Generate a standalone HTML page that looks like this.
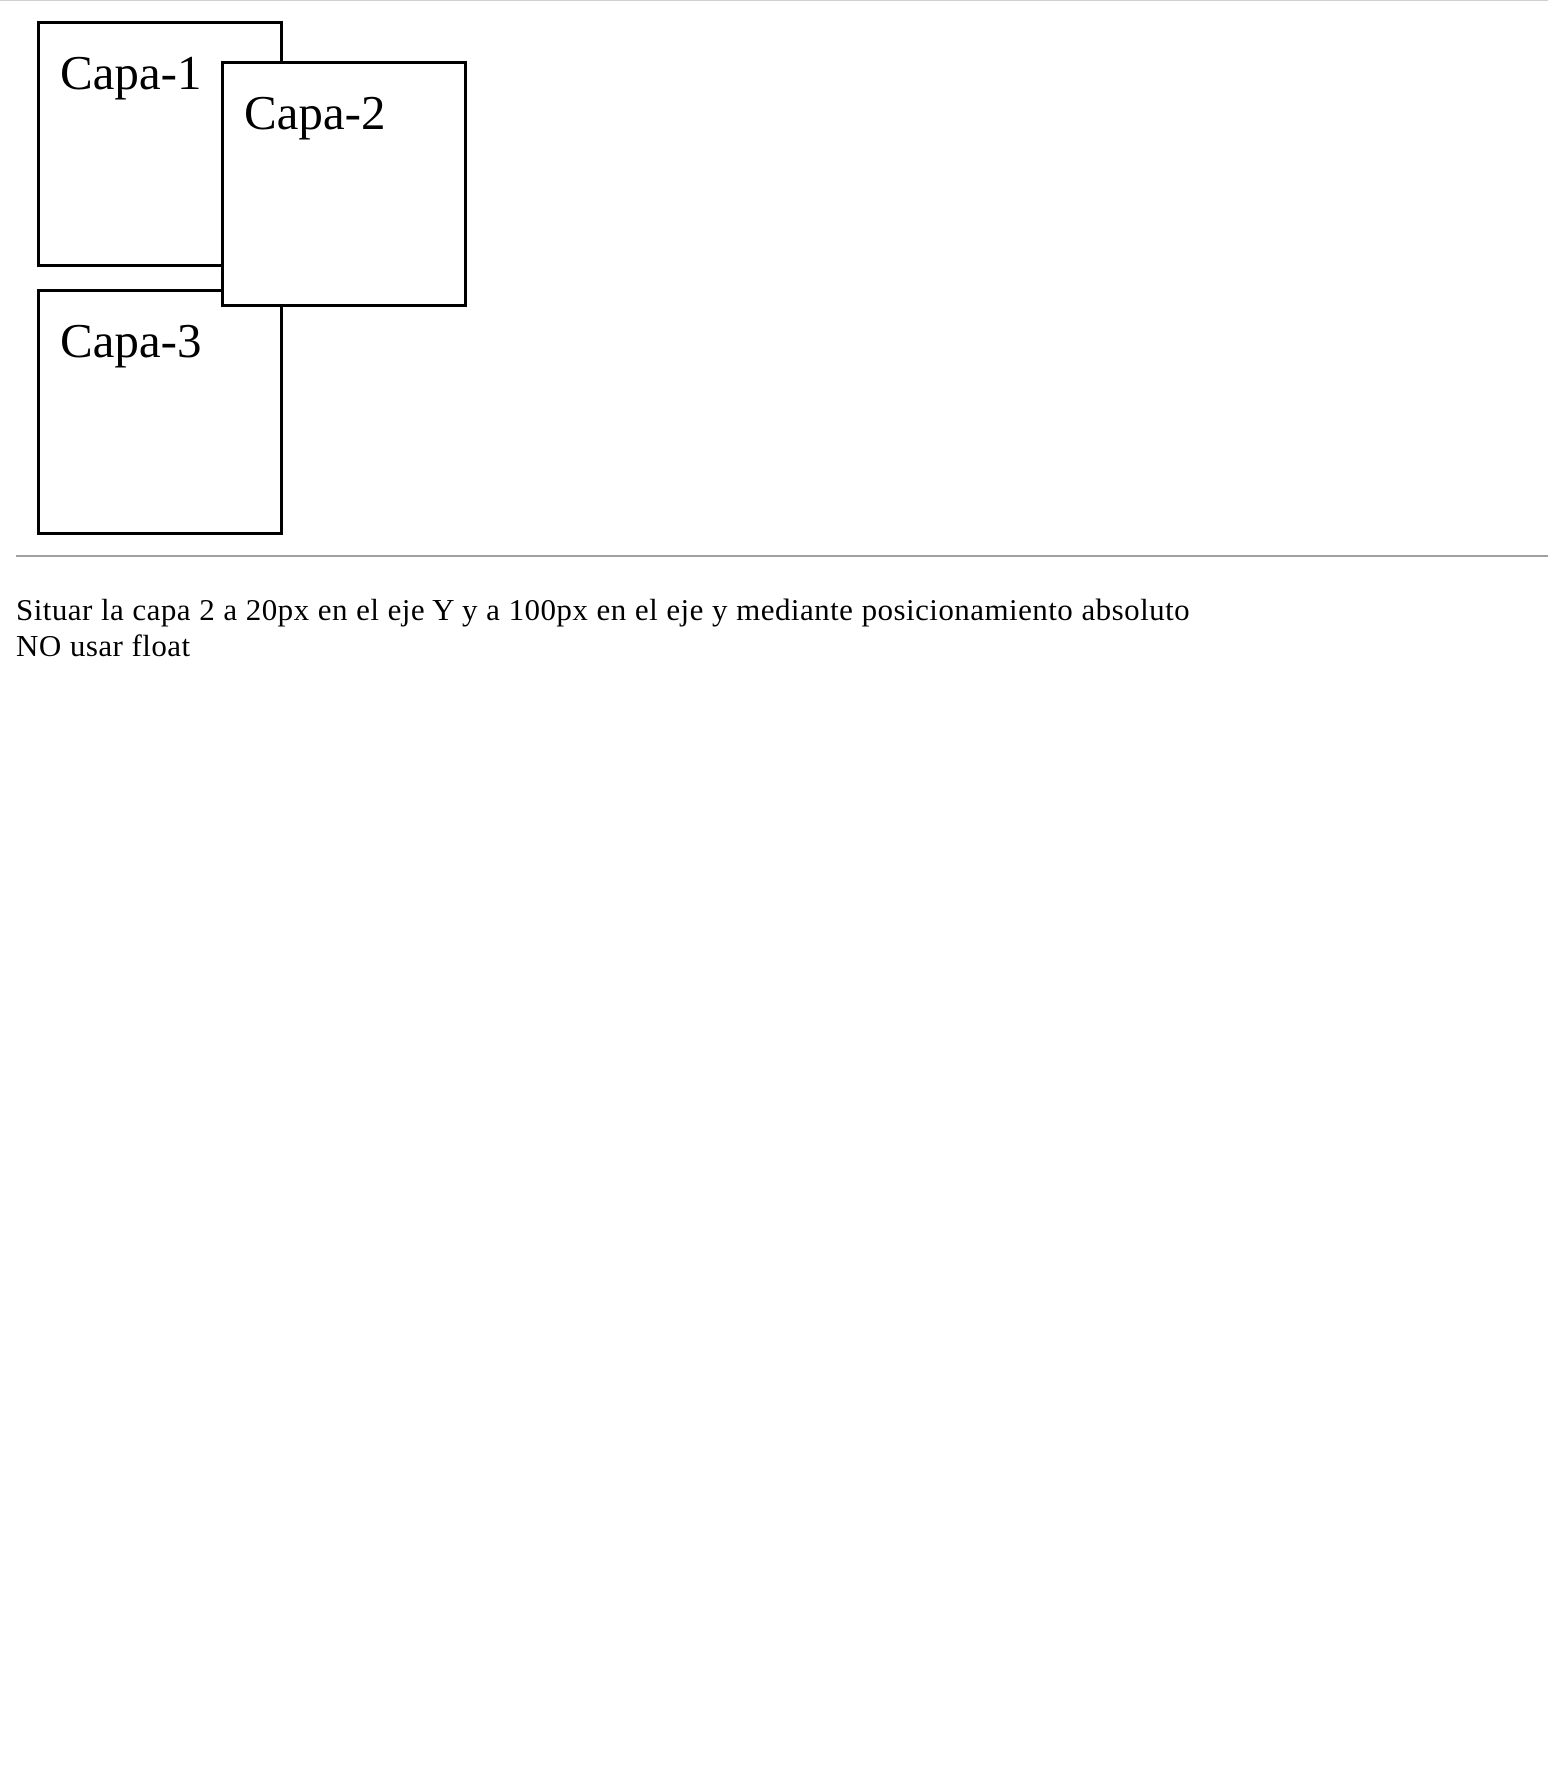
<!DOCTYPE html>
<html><head><style>
body{margin:0;width:1548px;height:1772px;background:#fff;position:relative;font-family:"Liberation Serif",serif;color:#000;overflow:hidden}
.top{position:absolute;left:0;top:0;width:1548px;height:1px;background:#d0d0d0}
.b{position:absolute;width:240px;height:240px;border:3px solid #000;background:#fff;box-sizing:content-box}
.b span{position:absolute;left:20px;top:24px;font-size:49px;line-height:49px}
hr{position:absolute;left:16px;top:555px;width:1532px;margin:0;border:0;border-top:2px solid #a0a0a0}
.t{position:absolute;left:16px;top:592px;font-size:31px;line-height:36px;letter-spacing:0.45px}
</style></head><body>
<div class="top"></div>
<div class="b" style="left:37px;top:21px"><span>Capa-1</span></div>
<div class="b" style="left:37px;top:289px"><span>Capa-3</span></div>
<div class="b" style="left:221px;top:61px"><span>Capa-2</span></div>
<hr>
<div class="t">Situar la capa 2 a 20px en el eje Y y a 100px en el eje y mediante posicionamiento absoluto<br>NO usar float</div>
</body></html>
